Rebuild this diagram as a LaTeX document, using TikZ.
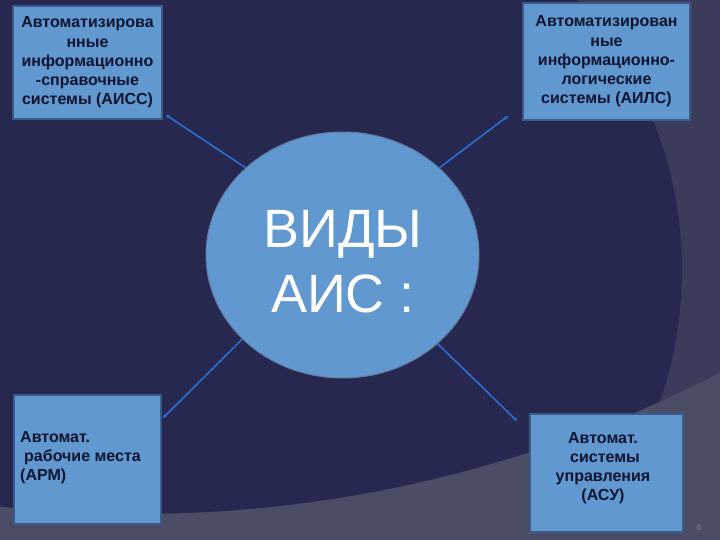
\documentclass[tikz,border=0pt]{standalone}
\usepackage{fontspec}
\setmainfont{Liberation Sans}
\usetikzlibrary{shapes.geometric,arrows.meta}
\definecolor{navy}{HTML}{27284F}
\definecolor{sidebg}{HTML}{3B3C5C}
\definecolor{bandbg}{HTML}{4B4C66}
\definecolor{boxfill}{HTML}{6098CF}
\definecolor{boxline}{HTML}{3A5A88}
\definecolor{txt}{HTML}{0E1430}
\definecolor{conn}{HTML}{2C70DC}
\definecolor{pnum}{HTML}{8A8CA0}
\tikzset{
  infobox/.style={draw=boxline, line width=1.5pt, fill=boxfill, rectangle, inner sep=0pt, text=txt,
    font=\fontsize{16}{19.2}\selectfont\bfseries},
  boxtext/.style={text=txt, inner sep=0pt, font=\fontsize{16}{19.2}\selectfont\bfseries},
  conline/.style={draw=conn, line width=1.5pt, -{Stealth[length=4pt,width=4pt]}},
}
\begin{document}
\begin{tikzpicture}[x=1pt,y=-1pt]
\useasboundingbox (0,0) rectangle (720,540);
\begin{scope}
\clip (0,0) rectangle (720,540);
\fill[sidebg] (0,0) rectangle (720,540);
\fill[navy] (282,270) circle[radius=400];
\fill[bandbg, even odd rule] (-10,-10) rectangle (730,550) (137,-757) circle[radius=1271];
\end{scope}

\node[infobox, minimum width=149pt, minimum height=113pt, align=center] (aiss) at (87.5,62.5)
  {Автоматизирова\\нные\\информационно\\-справочные\\системы (АИСС)};
\node[infobox, minimum width=167pt, minimum height=117pt, align=center] (ails) at (606.5,61.5)
  {Автоматизирован\\ные\\информационно-\\логические\\системы (АИЛС)};
\node[infobox, minimum width=147pt, minimum height=129pt] (arm) at (87.5,459.5) {};
\node[boxtext, align=left, anchor=north west] (armtext) at (20,431)
  {Автомат.\\\hspace*{0.25em}рабочие места\\(АРМ)};
\node[infobox, minimum width=153pt, minimum height=118pt] (asu) at (606.5,473) {};
\node[boxtext, align=center] (asutext) at (603,468)
  {Автомат.\\\hspace*{0.25em}системы\\управления\\(АСУ)};

\node[ellipse, draw=boxline!80, line width=1pt, fill=boxfill, minimum width=273pt, minimum height=246pt,
  inner sep=0pt] (c) at (342.5,255) {};
\node[text=white, align=center, inner sep=0pt, font=\fontsize{54}{65}\selectfont] (ctext) at (343,262)
  {ВИДЫ\\АИС :};

\coordinate (e1) at (166,115);
\coordinate (e2) at (508,116);
\coordinate (e3) at (163,418);
\coordinate (e4) at (517,421);
\draw[conline] (c.138) -- (e1);
\draw[conline] (c.42) -- (e2);
\draw[conline] (c.220) -- (e3);
\draw[conline] (c.-43) -- (e4);

\node[text=pnum, font=\fontsize{8}{9}\selectfont, inner sep=0pt] (pn) at (699,528) {6};
\end{tikzpicture}
\end{document}
